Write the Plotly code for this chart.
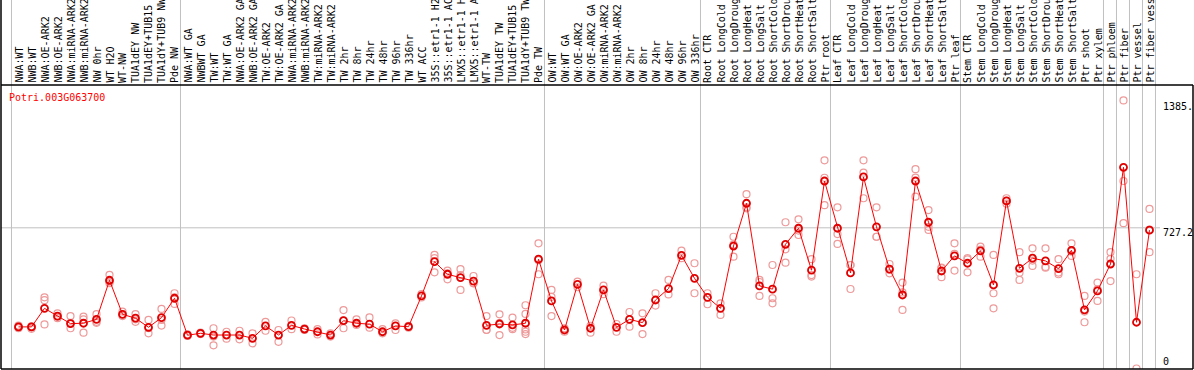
import plotly.graph_objects as go

# ---------------- data ----------------
categories = [
    "NWA:WT", "NWB:WT", "NWA:OE-ARK2", "NWB:OE-ARK2", "NWA:miRNA-ARK2", "NWB:miRNA-ARK2",
    "NW 0hr", "WT H2O", "WT-NW", "TUA1dEY NW", "TUA1dEY+TUB15 NW", "TUA1dY+TUB9 NW", "Pde NW",
    "NWA:WT GA", "NWBWT GA", "TW:WT", "TW:WT GA", "NWA:OE-ARK2 GA", "NWB:OE-ARK2 GA",
    "TW:OE-ARK2", "TW:OE-ARK2 GA", "NWA:miRNA-ARK2", "NWB:miRNA-ARK2", "TW:miRNA-ARK2",
    "TW:miRNA-ARK2", "TW 2hr", "TW 8hr", "TW 24hr", "TW 48hr", "TW 96hr", "TW 336hr", "WT ACC",
    "35S::etr1-1 H2O", "35S::etr1-1 ACC", "LMX5::etr1-1 H2O", "LMX5::etr1-1 ACC", "WT-TW",
    "TUA1dEY TW", "TUA1dEY+TUB15 TW", "TUA1dY+TUB9 TW", "Pde TW",
    "OW:WT", "OW:WT GA", "OW:OE-ARK2", "OW:OE-ARK2 GA", "OW:miRNA-ARK2", "OW:miRNA-ARK2",
    "OW 2hr", "OW 8hr", "OW 24hr", "OW 48hr", "OW 96hr", "OW 336hr",
    "Root CTR", "Root LongCold", "Root LongDrought", "Root LongHeat", "Root LongSalt",
    "Root ShortCold", "Root ShortDrought", "Root ShortHeat", "Root ShortSalt", "Ptr root",
    "Leaf CTR", "Leaf LongCold", "Leaf LongDrought", "Leaf LongHeat", "Leaf LongSalt",
    "Leaf ShortCold", "Leaf ShortDrought", "Leaf ShortHeat", "Leaf ShortSalt", "Ptr leaf",
    "Stem CTR", "Stem LongCold", "Stem LongDrought", "Stem LongHeat", "Stem LongSalt",
    "Stem ShortCold", "Stem ShortDrought", "Stem ShortHeat", "Stem ShortSalt", "Ptr shoot",
    "Ptr xylem", "Ptr phloem", "Ptr fiber", "Ptr vessel", "Ptr fiber vessel",
]

mean_values = [
    215, 215, 311, 271, 232, 234, 254, 456, 280, 260, 213, 263, 363,
    172, 182, 173, 173, 173, 156, 220, 173, 223,
    204, 190, 173, 247, 234, 229, 190, 220, 216, 375, 552, 487, 470, 452, 223, 230, 225, 234, 565,
    349, 199, 435, 208, 406, 213, 254, 237, 354, 413, 585, 466,
    368, 311, 633, 854, 427, 410, 642, 725, 508, 969,
    725, 494, 990, 732, 514, 380, 969, 756, 504, 582,
    544, 608, 432, 866, 518, 570, 556, 516, 611, 303, 401, 540, 1040, 239, 715,
]

replicate_values = [
    [222, 212, 208], [218, 213, 205], [368, 353, 228], [285, 260, 268], [271, 208, 236],
    [268, 254, 185], [281, 241, 236], [484, 449, 441], [294, 271, 280], [281, 241, 254],
    [251, 182, 208], [308, 251, 222], [389, 334, 368],
    [177, 168], [185, 178], [208, 165, 120], [190, 154], [195, 151], [182, 130],
    [241, 195], [199, 138], [248, 203],
    [207, 199], [204, 176], [182, 165], [302, 247, 208], [254, 225], [264, 211], [204, 182],
    [233, 199], [221, 211], [384, 367], [587, 570, 497], [506, 461, 492], [514, 406, 483],
    [478, 441, 440], [271, 199, 200], [280, 173, 235], [263, 203, 210],
    [327, 282, 202, 190, 178], [647, 487, 560],
    [406, 271, 370], [208, 190], [449, 420], [221, 185], [428, 384], [230, 190],
    [292, 216], [285, 178], [389, 325], [458, 383], [609, 570], [544, 389],
    [389, 332], [337, 277], [681, 640, 578], [901, 828, 833], [458, 375, 447],
    [535, 363, 337], [756, 616, 547], [771, 690, 713], [565, 475, 483], [1076, 986, 844],
    [833, 695, 644], [535, 411, 535], [1076, 1012, 880], [833, 681, 681], [540, 492, 511],
    [444, 303, 393], [1030, 987, 888], [819, 716, 732], [521, 472, 519], [647, 506, 592],
    [570, 497, 564], [630, 578, 615], [587, 389, 311], [880, 866, 852], [601, 458, 495],
    [621, 530, 558], [621, 521, 525], [565, 487, 496], [647, 582, 604], [375, 239, 294],
    [444, 349, 409], [601, 452, 567], [1385.4, 969, 751], [487, 0], [825, 601, 718],
]

group_starts = [0, 13, 41, 53, 63, 73, 84, 85, 86, 87, 88]
gene_id = "Potri.003G063700"
y_tick_values = [1385.4, 727.2, 0]
y_tick_labels = ["1385.", "727.2", "0"]

# ---------------- geometry ----------------
W, H = 1194, 370
ML, MR, MT, MB = 1, 1, 85, 1
PW, PH = W - ML - MR, H - MT - MB
STEP = 13.0
X0 = -(18.5 - ML) / STEP
X1 = X0 + PW / STEP
Y_ZERO_PX = 368.5
UNITS_PER_PX = 727.2 / 140.7
Y0 = -(H - MB - Y_ZERO_PX) * UNITS_PER_PX
Y1 = (Y_ZERO_PX - MT) * UNITS_PER_PX
MONO = "DejaVu Sans Mono"

xs = list(range(len(categories)))
rep_x, rep_y = [], []
for i, reps in enumerate(replicate_values):
    for v in reps:
        rep_x.append(i)
        rep_y.append(v)

fig = go.Figure()
fig.add_trace(go.Scatter(
    x=rep_x, y=rep_y, mode="markers", hoverinfo="skip",
    marker=dict(symbol="circle-open", size=7, color="#ee9a9a", line=dict(width=1.2, color="#ee9a9a")),
))
fig.add_trace(go.Scatter(
    x=xs, y=mean_values, mode="lines+markers",
    line=dict(color="#ff0000", width=1),
    marker=dict(symbol="circle-open", size=7, color="#e00000", line=dict(width=1.8, color="#e00000")),
))

top_paper = (PH + MT) / PH
shapes = []
shapes.append(dict(type="line", xref="paper", yref="y", x0=0, x1=(1160 - ML) / PW,
                   y0=727.2, y1=727.2, line=dict(color="#c0c0c0", width=1), layer="below"))
for b in group_starts:
    shapes.append(dict(type="line", xref="x", yref="paper", x0=b - 0.54, x1=b - 0.54,
                       y0=0, y1=top_paper, line=dict(color="#c0c0c0", width=1), layer="below"))
blk = dict(color="#000000", width=1.5)
shapes.append(dict(type="line", xref="paper", yref="paper", x0=0, x1=1, y0=1, y1=1, line=blk))
shapes.append(dict(type="line", xref="paper", yref="paper", x0=0, x1=1, y0=0, y1=0, line=blk))
shapes.append(dict(type="line", xref="paper", yref="paper", x0=0, x1=0, y0=0, y1=top_paper, line=blk))
shapes.append(dict(type="line", xref="paper", yref="paper", x0=1, x1=1, y0=0, y1=1, line=blk))

annotations = []
for i, lab in enumerate(categories):
    annotations.append(dict(x=i, xref="x", y=1, yref="paper", yanchor="bottom", xanchor="center",
                            text=lab, textangle=-90, showarrow=False,
                            font=dict(family=MONO, size=10, color="#000000")))
annotations.append(dict(x=(7.3 - ML) / PW, xref="paper", y=(H - MB - 97.3) / PH, yref="paper",
                        xanchor="left", yanchor="middle", text=gene_id, showarrow=False,
                        font=dict(family=MONO, size=10, color="#ff0000")))
label_centers_px = [106.7, 232.0, 361.7]
for lab, cy in zip(y_tick_labels, label_centers_px):
    annotations.append(dict(x=(1161.3 - ML) / PW, xref="paper", y=(H - MB - cy) / PH, yref="paper",
                            xanchor="left", yanchor="middle", text=lab, showarrow=False,
                            font=dict(family=MONO, size=10, color="#000000")))

fig.update_layout(
    width=W, height=H, margin=dict(l=ML, r=MR, t=MT, b=MB, pad=0),
    paper_bgcolor="#ffffff", plot_bgcolor="#ffffff", showlegend=False,
    xaxis=dict(range=[X0, X1], visible=False, fixedrange=True),
    yaxis=dict(range=[Y0, Y1], visible=False, fixedrange=True),
    shapes=shapes, annotations=annotations,
)
fig.write_html(
    "out.html",
    config={"displayModeBar": False, "staticPlot": True},
    post_script="document.body.style.margin='0';document.body.style.overflow='hidden';",
)
